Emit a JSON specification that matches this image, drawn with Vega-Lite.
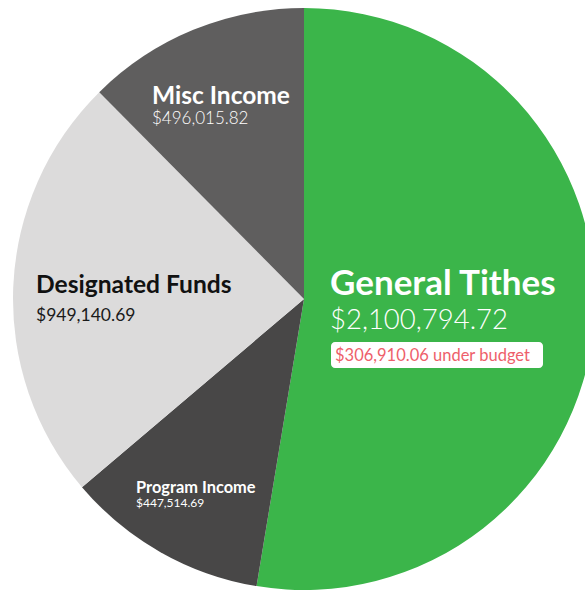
{
  "$schema": "https://vega.github.io/schema/vega-lite/v6.json",
  "autosize": {"type": "none"},
  "padding": {"left": 23, "top": 8, "right": 0, "bottom": 0},
  "width": 562,
  "height": 582,
  "background": "white",
  "config": {"view": {"stroke": null}, "text": {"font": "Lato", "align": "left", "baseline": "alphabetic"}},
  "data": {
    "values": [
      {"category": "General Tithes", "amount": 2100794.72, "note": "$306,910.06 under budget"},
      {"category": "Program Income", "amount": 447514.69},
      {"category": "Designated Funds", "amount": 949140.69},
      {"category": "Misc Income", "amount": 496015.82}
    ]
  },
  "layer": [
    {
      "transform": [{"window": [{"op": "row_number", "as": "slice_order"}]}],
      "mark": {"type": "arc", "radius": 291, "stroke": null},
      "encoding": {
        "theta": {"field": "amount", "type": "quantitative", "stack": true},
        "order": {"field": "slice_order", "type": "quantitative"},
        "color": {
          "field": "category",
          "type": "nominal",
          "scale": {
            "domain": ["General Tithes", "Program Income", "Designated Funds", "Misc Income"],
            "range": ["#3bb54a", "#484747", "#dcdbdb", "#5f5e5e"]
          },
          "legend": null
        }
      }
    },
    {
      "transform": [{"filter": "datum.category === 'General Tithes'"}],
      "mark": {"type": "point", "filled": true, "size": 4, "fill": "white", "opacity": 1, "strokeWidth": 0,
        "shape": "M31,43 H235 A4,4 0 0 1 239,47 V65 A4,4 0 0 1 235,69 H31 A4,4 0 0 1 27,65 V47 A4,4 0 0 1 31,43 Z"},
      "encoding": {}
    },
    {
      "transform": [{"filter": "datum.category === 'General Tithes'"}],
      "mark": {"type": "text", "dx": 26, "dy": -4, "fontSize": 35, "fontWeight": "bold", "color": "white"},
      "encoding": {"text": {"field": "category"}}
    },
    {
      "transform": [{"filter": "datum.category === 'General Tithes'"}],
      "mark": {"type": "text", "dx": 26, "dy": 30, "fontSize": 27.5, "fontWeight": 300, "color": "white"},
      "encoding": {"text": {"field": "amount", "format": "$,.2f"}}
    },
    {
      "transform": [{"filter": "datum.category === 'General Tithes'"}],
      "mark": {"type": "text", "dx": 31, "dy": 62, "fontSize": 16.5, "color": "#ee5f6b"},
      "encoding": {"text": {"field": "note"}}
    },
    {
      "transform": [{"filter": "datum.category === 'Misc Income'"}],
      "mark": {"type": "text", "dx": -152, "dy": -195, "fontSize": 24.5, "fontWeight": "bold", "color": "white"},
      "encoding": {"text": {"field": "category"}}
    },
    {
      "transform": [{"filter": "datum.category === 'Misc Income'"}],
      "mark": {"type": "text", "dx": -152, "dy": -175, "fontSize": 17, "fontWeight": 300, "color": "white"},
      "encoding": {"text": {"field": "amount", "format": "$,.2f"}}
    },
    {
      "transform": [{"filter": "datum.category === 'Designated Funds'"}],
      "mark": {"type": "text", "dx": -268, "dy": -6, "fontSize": 24.6, "fontWeight": "bold", "color": "#111111"},
      "encoding": {"text": {"field": "category"}}
    },
    {
      "transform": [{"filter": "datum.category === 'Designated Funds'"}],
      "mark": {"type": "text", "dx": -268, "dy": 22, "fontSize": 17.5, "color": "#1a1a1a"},
      "encoding": {"text": {"field": "amount", "format": "$,.2f"}}
    },
    {
      "transform": [{"filter": "datum.category === 'Program Income'"}],
      "mark": {"type": "text", "dx": -168, "dy": 194, "fontSize": 16.4, "fontWeight": "bold", "color": "white"},
      "encoding": {"text": {"field": "category"}}
    },
    {
      "transform": [{"filter": "datum.category === 'Program Income'"}],
      "mark": {"type": "text", "dx": -168, "dy": 208, "fontSize": 12, "color": "white"},
      "encoding": {"text": {"field": "amount", "format": "$,.2f"}}
    }
  ]
}
